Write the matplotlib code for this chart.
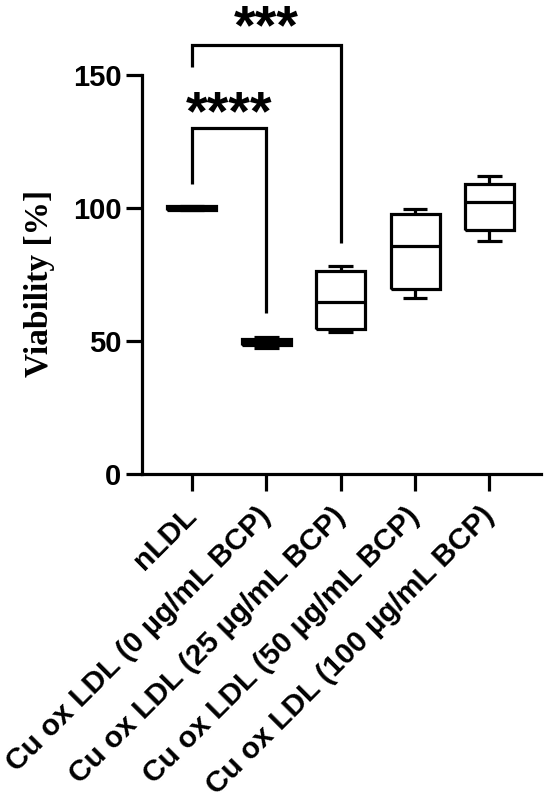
import matplotlib
matplotlib.use("Agg")
import matplotlib.pyplot as plt
from matplotlib.transforms import ScaledTranslation

# --- data (viability %, box stats per group) ---
groups = ["nLDL",
          "Cu ox LDL (0 µg/mL BCP)",
          "Cu ox LDL (25 µg/mL BCP)",
          "Cu ox LDL (50 µg/mL BCP)",
          "Cu ox LDL (100 µg/mL BCP)"]
whis_lo = [99.2, 47.5, 53.6, 66.1, 87.8]
q1 = [99.3, 48.4, 54.6, 69.5, 91.8]
median = [100.0, 49.6, 64.8, 85.8, 102.4]
q3 = [100.7, 50.8, 76.5, 97.8, 109.1]
whis_hi = [100.8, 51.6, 78.1, 99.5, 112.2]

# significance brackets: (from, to, left leg end, top, right leg end, label, label baseline)
sig_from = [0, 0]
sig_to = [1, 2]
sig_left = [108.9, 153.1]
sig_top = [130.0, 161.3]
sig_right = [60.5, 87.0]
sig_text = ["****", "***"]
sig_text_y = [129.8, 161.8]

yticks = [0, 50, 100, 150]

LW = 2.3
SANS = "Liberation Sans"

fig = plt.figure(figsize=(5.5, 8.06), dpi=100)
ax = fig.add_axes([0.2585, 0.4115, 0.7255, 0.4954])

stats = []
for i in range(len(groups)):
    stats.append(dict(label=groups[i], whislo=whis_lo[i], q1=q1[i], med=median[i],
                      q3=q3[i], whishi=whis_hi[i], fliers=[]))

line_kw = dict(color="black", linewidth=LW, solid_joinstyle="miter", solid_capstyle="butt")
ax.bxp(stats, positions=range(len(groups)), widths=0.66, capwidths=0.33,
       showfliers=False, boxprops=line_kw, whiskerprops=line_kw,
       capprops=line_kw, medianprops=line_kw)

# brackets
for a, b, yl, yt, yr, txt, ty in zip(sig_from, sig_to, sig_left, sig_top,
                                     sig_right, sig_text, sig_text_y):
    ax.plot([a, a, b, b], [yl, yt, yt, yr], color="black", lw=LW,
            clip_on=False, solid_joinstyle="miter", solid_capstyle="butt")
    ax.text((a + b) / 2, ty, txt, ha="center", va="baseline", fontsize=40,
            fontfamily=SANS, fontweight="bold", clip_on=False)

ax.set_xlim(-0.667, 4.695)
ax.set_ylim(0, 150)
ax.set_yticks(yticks)
ax.set_xticks(range(len(groups)))
ax.set_xticklabels(groups, rotation=45, ha="right", va="center",
                   rotation_mode="anchor")

# nudge the slanted labels a little to the right, like the original
shift = ScaledTranslation(0.07, 0, fig.dpi_scale_trans)
for lab in ax.get_xticklabels():
    lab.set_transform(lab.get_transform() + shift)

for lab in ax.get_xticklabels() + ax.get_yticklabels():
    lab.set_fontfamily(SANS)
    lab.set_fontweight("bold")
for lab in ax.get_xticklabels():
    lab.set_fontsize(21.5)
for lab in ax.get_yticklabels():
    lab.set_fontsize(21)

ax.spines["top"].set_visible(False)
ax.spines["right"].set_visible(False)
ax.spines["left"].set_linewidth(LW)
ax.spines["bottom"].set_linewidth(LW)
ax.tick_params(axis="y", length=11.5, width=LW, pad=3.5)
ax.tick_params(axis="x", length=12, width=LW, pad=15)

fig.text(40 / 550, 1 - 283 / 806, "Viability [%]", rotation=90, ha="center",
         va="center", fontsize=24, fontfamily="Liberation Serif", fontweight="bold")

fig.savefig("out.png", dpi=100)
